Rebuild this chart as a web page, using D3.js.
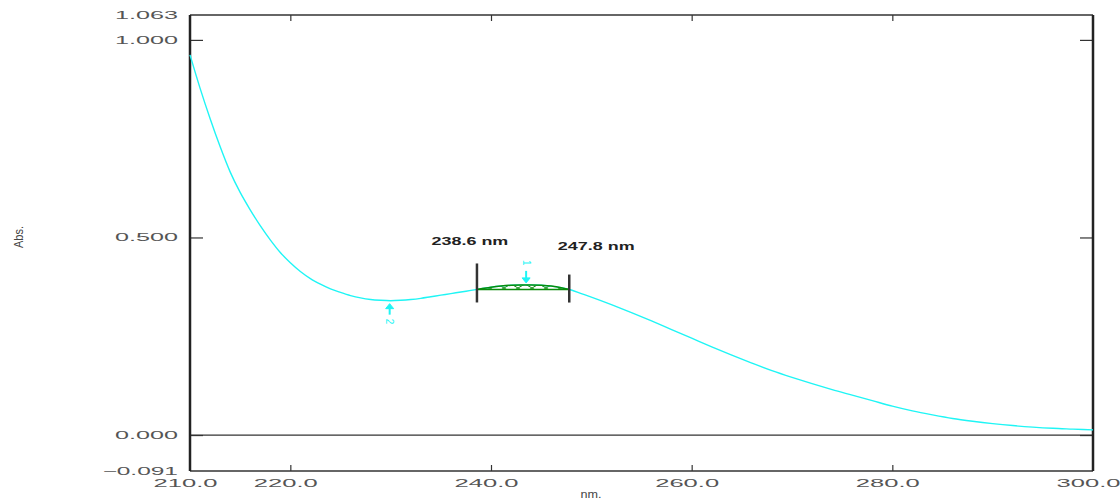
<!DOCTYPE html>
<html>
<head>
<meta charset="utf-8">
<title>Abs. spectrum</title>
<script src="https://d3js.org/d3.v7.min.js"></script>
<style>
  body { margin:0; background:#fff; }
  text { font-family: "Liberation Sans", Arial, sans-serif; }
</style>
</head>
<body>
<div id="chart"></div>
<script>

// spectrum (nm, Abs.)
var wavelengths = [210,211,212,213,214,215,216,217,218,219,220,221,222,223,224,225,226,227,228,229,
                   230,231,232,233,234,235,236,237,238,239,240,241,242,243,244,245,246,247,248,249,
                   250,252,254,256,258,260,262,264,266,268,270,272,274,276,278,280,282,284,286,288,
                   290,292,294,296,298,300];
var absorbance  = [0.962,0.878,0.801,0.730,0.666,0.614,0.570,0.530,0.494,0.462,0.436,0.414,0.396,0.382,0.370,0.361,0.353,0.347,0.343,0.341,
                   0.340,0.341,0.343,0.346,0.350,0.354,0.358,0.362,0.366,0.370,0.374,0.377,0.379,0.380,0.380,0.379,0.377,0.373,0.367,0.358,
                   0.349,0.330,0.310,0.289,0.267,0.245,0.223,0.202,0.182,0.163,0.146,0.130,0.115,0.101,0.087,0.073,0.061,0.051,0.042,0.035,
                   0.029,0.024,0.020,0.017,0.015,0.013];

var yTicks = [-0.091, 0.000, 0.500, 1.000, 1.063];
var xTicks = [210, 220, 240, 260, 280, 300];
var peakRange = [238.6, 247.8];   // integration limits
var peakLabels = ["238.6 nm", "247.8 nm"];
var markers = [ {nm:243.5, label:"1", dir:"down"}, {nm:229.9, label:"2", dir:"up"} ];

var W = 1120, H = 501;
var m = {left:190, right:27, top:15, bottom:30};

var svg = d3.select("#chart").append("svg")
            .attr("width", W).attr("height", H);

var x = d3.scaleLinear().domain([210, 300]).range([m.left, W - m.right]);
var y = d3.scaleLinear().domain([-0.091, 1.063]).range([H - m.bottom, m.top]);

var data = wavelengths.map((w,i) => ({x:w, y:absorbance[i]}));
// linear lookup on the read values
function absAt(w) {
  var i = d3.bisectLeft(wavelengths, w);
  if (i <= 0) return absorbance[0];
  var t = (w - wavelengths[i-1]) / (wavelengths[i] - wavelengths[i-1]);
  return absorbance[i-1] + t*(absorbance[i] - absorbance[i-1]);
}

function stretch(sel, perChar) {
  sel.each(function() {
    var n = this.textContent.length;
    d3.select(this).attr("textLength", n*perChar).attr("lengthAdjust","spacingAndGlyphs");
  });
}

// zero line
svg.append("line")
   .attr("x1", x(210)).attr("x2", x(300))
   .attr("y1", y(0)).attr("y2", y(0))
   .attr("stroke", "#333").attr("stroke-width", 1.2);

// axes
var gl = svg.append("g").attr("transform", "translate(" + m.left + ",0)")
   .call(d3.axisLeft(y).tickValues(yTicks).tickFormat(d3.format(".3f")).tickSize(-13).tickPadding(12));
var gr = svg.append("g").attr("transform", "translate(" + (W - m.right) + ",0)")
   .call(d3.axisRight(y).tickValues([0, 0.5, 1.0]).tickFormat("").tickSize(-13));
var gb = svg.append("g").attr("transform", "translate(0," + (H - m.bottom) + ")")
   .call(d3.axisBottom(x).tickValues(xTicks).tickFormat(d3.format(".1f")).tickSize(-6).tickPadding(9));
var gt = svg.append("g").attr("transform", "translate(0," + m.top + ")")
   .call(d3.axisTop(x).tickValues([220,240,260,280]).tickFormat("").tickSize(-6));

[gl, gr, gb, gt].forEach(g => {
  g.select(".domain").remove();
  g.selectAll("line").attr("stroke", "#333").attr("stroke-width", 1.2);
  g.selectAll("text").attr("fill", "#555").style("font-size", "10.5px");
});
gl.selectAll(".tick").filter(d => d == -0.091 || d == 1.063).select("line").remove();
gb.selectAll(".tick").filter(d => d == 210 || d == 300).select("line").remove();
gb.selectAll("text").attr("dx", -5);
stretch(gl.selectAll("text"), 12.6);
stretch(gb.selectAll("text"), 12.8);

// frame
svg.append("line").attr("x1", m.left).attr("x2", W - m.right).attr("y1", m.top).attr("y2", m.top)
   .attr("stroke", "#333").attr("stroke-width", 1.5);
svg.append("line").attr("x1", m.left).attr("x2", W - m.right).attr("y1", H - m.bottom).attr("y2", H - m.bottom)
   .attr("stroke", "#333").attr("stroke-width", 1.5);
svg.append("line").attr("x1", m.left).attr("x2", m.left).attr("y1", m.top).attr("y2", H - m.bottom)
   .attr("stroke", "#222").attr("stroke-width", 2.5);
svg.append("line").attr("x1", W - m.right).attr("x2", W - m.right).attr("y1", m.top).attr("y2", H - m.bottom)
   .attr("stroke", "#222").attr("stroke-width", 2.5);

// axis titles
svg.append("text").attr("transform", "translate(23,237) rotate(-90)")
   .attr("text-anchor", "middle").attr("fill", "#444").style("font-size", "13px")
   .text("Abs.").call(stretch, 5.5);
svg.append("text").attr("x", 591).attr("y", 498)
   .attr("text-anchor", "middle").attr("fill", "#444").style("font-size", "10.5px")
   .text("nm.").call(stretch, 7);

// peak area with crosshatch
var defs = svg.append("defs");
var pat = defs.append("pattern").attr("id", "hatch").attr("patternUnits", "userSpaceOnUse")
   .attr("width", 14).attr("height", 8);
pat.append("path").attr("d", "M0,8 L14,0 M0,0 L14,8").attr("stroke", "#0a8a0a").attr("stroke-width", 1);

var peakPts = [{x:peakRange[0], y:absAt(peakRange[0])}]
  .concat(data.filter(d => d.x > peakRange[0] && d.x < peakRange[1]))
  .concat([{x:peakRange[1], y:absAt(peakRange[1])}]);
var y0 = peakPts[0].y, y1 = peakPts[peakPts.length-1].y;
var chord = w => y0 + (w - peakRange[0]) / (peakRange[1] - peakRange[0]) * (y1 - y0);

svg.append("path").datum(peakPts)
   .attr("d", d3.area().x(d => x(d.x)).y0(d => y(chord(d.x))).y1(d => y(d.y)).curve(d3.curveMonotoneX))
   .attr("fill", "url(#hatch)");

// spectrum line
svg.append("path").datum(data)
   .attr("d", d3.line().x(d => x(d.x)).y(d => y(d.y)).curve(d3.curveMonotoneX))
   .attr("fill", "none").attr("stroke", "#1ff5f5").attr("stroke-width", 1.4);

svg.append("path").datum(peakPts)
   .attr("d", d3.line().x(d => x(d.x)).y(d => y(d.y)).curve(d3.curveMonotoneX))
   .attr("fill", "none").attr("stroke", "#0a8a0a").attr("stroke-width", 1.5);
svg.append("line")
   .attr("x1", x(peakRange[0])).attr("x2", x(peakRange[1]))
   .attr("y1", y(y0)).attr("y2", y(y1))
   .attr("stroke", "#0a8a0a").attr("stroke-width", 1.5);

// limit bars
svg.selectAll(".limit").data(peakRange).enter().append("line")
   .attr("class", "limit")
   .attr("x1", d => x(d)).attr("x2", d => x(d))
   .attr("y1", (d,i) => y(absAt(d)) - (i == 0 ? 26 : 15))
   .attr("y2", d => y(absAt(d)) + 13)
   .attr("stroke", "#333").attr("stroke-width", 2.5);

svg.selectAll(".limitLabel").data(peakRange).enter().append("text")
   .attr("class", "limitLabel")
   .attr("x", (d,i) => x(d) + (i == 0 ? -7 : 27))
   .attr("y", (d,i) => i == 0 ? 245 : 250)
   .attr("text-anchor", "middle")
   .attr("fill", "#222").style("font-size", "10px").style("font-weight", "bold")
   .text((d,i) => peakLabels[i])
   .call(stretch, 9.6);

// peak / valley markers
markers.forEach(mk => {
  var px = x(mk.nm), py = y(absAt(mk.nm));
  var g = svg.append("g").attr("fill", "#1ff5f5").attr("stroke", "#1ff5f5");
  if (mk.dir == "down") {
    g.append("line").attr("x1", px).attr("x2", px).attr("y1", py - 14).attr("y2", py - 5).attr("stroke-width", 2);
    g.append("path").attr("d", "M" + (px-4) + "," + (py-7) + " L" + (px+4) + "," + (py-7) + " L" + px + "," + (py-2) + " Z");
    g.append("text").attr("transform", "translate(" + (px-3) + "," + (py-22) + ") rotate(90)")
     .attr("text-anchor", "middle").attr("stroke", "none").style("font-size", "10px").text(mk.label);
  } else {
    g.append("line").attr("x1", px).attr("x2", px).attr("y1", py + 14).attr("y2", py + 5).attr("stroke-width", 2);
    g.append("path").attr("d", "M" + (px-4) + "," + (py+8) + " L" + (px+4) + "," + (py+8) + " L" + px + "," + (py+3) + " Z");
    g.append("text").attr("transform", "translate(" + (px-4) + "," + (py+21) + ") rotate(90)")
     .attr("text-anchor", "middle").attr("stroke", "none").style("font-size", "10px").text(mk.label);
  }
});

</script>
</body>
</html>
